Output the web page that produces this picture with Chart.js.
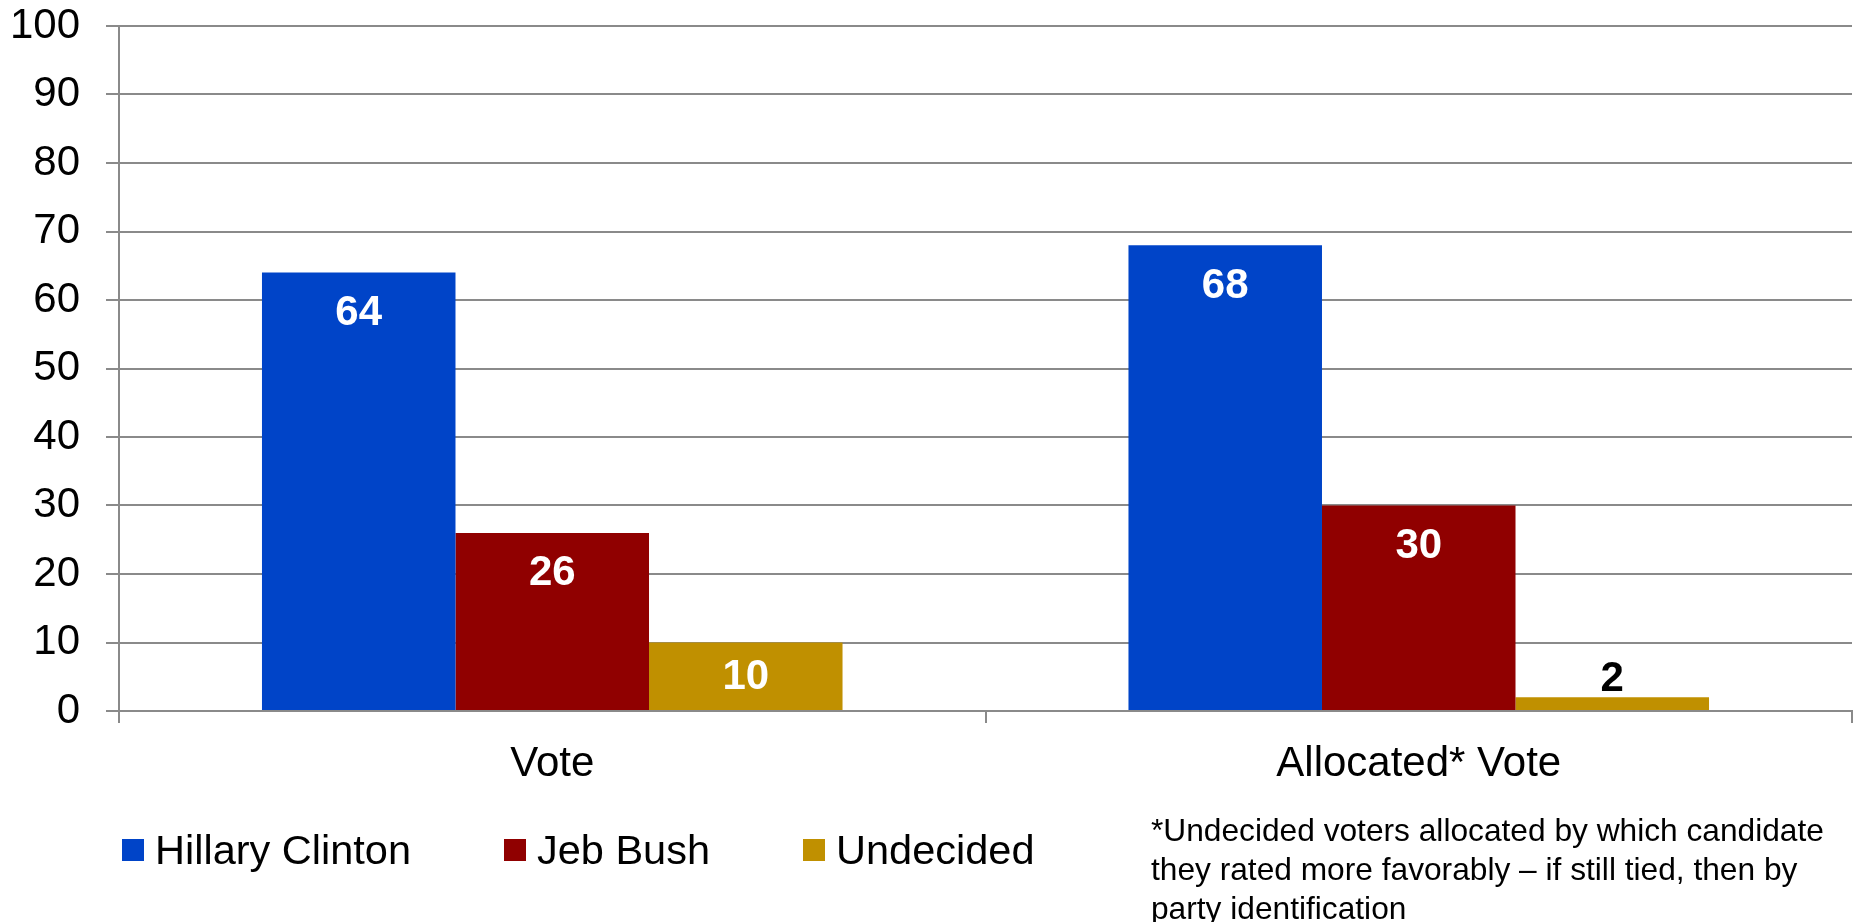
<!DOCTYPE html>
<html>
<head>
<meta charset="utf-8">
<script src="https://cdn.jsdelivr.net/npm/chart.js@4"></script>
<style>
  html, body { margin: 0; padding: 0; background: #fff; }
  #wrap { position: relative; width: 1856px; height: 922px; overflow: hidden; font-family: 'Liberation Sans', Arial, sans-serif; }
  #c { position: absolute; left: 0; top: 0; }
  #legend { position: absolute; left: 122px; top: 823px; display: flex; align-items: center; height: 54px; }
  .item { display: flex; align-items: center; margin-right: 93px; font-size: 41.5px; color: #000; white-space: nowrap; }
  .box { width: 22px; height: 22px; margin-right: 11px; }
  #note { position: absolute; left: 1151px; top: 811px; font-size: 31.7px; line-height: 39px; color: #000; white-space: nowrap; }
</style>
</head>
<body>
<div id="wrap">
  <canvas id="c" width="1856" height="922"></canvas>
  <div id="legend"></div>
  <div id="note">*Undecided voters allocated by which candidate<br>they rated more favorably – if still tied, then by<br>party identification</div>
</div>
<script>
const categories = ['Vote', 'Allocated* Vote'];
const seriesNames = ['Hillary Clinton', 'Jeb Bush', 'Undecided'];
const clintonValues = [64, 68];
const bushValues = [26, 30];
const undecidedValues = [10, 2];
const seriesColors = ['#0044C8', '#900000', '#C09000'];
const yTicks = [0, 10, 20, 30, 40, 50, 60, 70, 80, 90, 100];

const FONT = "'Liberation Sans', Arial, sans-serif";
const seriesValues = [clintonValues, bushValues, undecidedValues];

const datasets = seriesNames.map((name, i) => ({
  label: name,
  data: seriesValues[i],
  backgroundColor: seriesColors[i],
  borderWidth: 0,
  barPercentage: 1.0,
  categoryPercentage: 0.67
}));

const valueLabels = {
  id: 'valueLabels',
  afterDatasetsDraw(chart) {
    const ctx = chart.ctx;
    ctx.save();
    ctx.font = 'bold 42px ' + FONT;
    ctx.textAlign = 'center';
    ctx.textBaseline = 'middle';
    chart.data.datasets.forEach((ds, di) => {
      const meta = chart.getDatasetMeta(di);
      meta.data.forEach((bar, j) => {
        const v = ds.data[j];
        if (v >= 5) {
          ctx.fillStyle = '#ffffff';
          const y = Math.min(bar.y + 41, (bar.y + bar.base) / 2 + 1);
          ctx.fillText(String(v), bar.x, y);
        } else {
          ctx.fillStyle = '#000000';
          ctx.fillText(String(v), bar.x, bar.y - 18);
        }
      });
    });
    ctx.restore();
  }
};

const chart = new Chart(document.getElementById('c'), {
  type: 'bar',
  data: { labels: categories, datasets },
  options: {
    responsive: false,
    devicePixelRatio: 1,
    animation: false,
    layout: { padding: { left: 0, right: 4, top: 26, bottom: 0 } },
    plugins: {
      legend: { display: false },
      tooltip: { enabled: false }
    },
    scales: {
      x: {
        grid: {
          offset: true,
          drawOnChartArea: false,
          drawTicks: true,
          tickLength: 12,
          color: '#8a8a8a',
          lineWidth: 2
        },
        border: { display: true, color: '#8a8a8a', width: 2 },
        ticks: {
          color: '#000',
          font: { family: FONT, size: 42 },
          padding: 16
        },
        afterFit(scale) {
          scale.height = 211;
          scale.paddingLeft = 0; scale.paddingRight = 0;
        }
      },
      y: {
        min: 0,
        max: 100,
        afterBuildTicks(scale) { scale.ticks = yTicks.map(v => ({ value: v })); },
        grid: {
          color: '#8a8a8a',
          lineWidth: 2,
          tickLength: 13,
          drawTicks: true
        },
        border: { display: true, color: '#8a8a8a', width: 2 },
        ticks: {
          color: '#000',
          font: { family: FONT, size: 42 },
          padding: 26
        },
        afterFit(scale) {
          scale.width = 119;
          scale.paddingTop = 0; scale.paddingBottom = 0;
        }
      }
    }
  },
  plugins: [valueLabels]
});

const legendEl = document.getElementById('legend');
seriesNames.forEach((name, i) => {
  const item = document.createElement('div');
  item.className = 'item';
  const box = document.createElement('span');
  box.className = 'box';
  box.style.background = seriesColors[i];
  const txt = document.createElement('span');
  txt.textContent = name;
  item.appendChild(box);
  item.appendChild(txt);
  legendEl.appendChild(item);
});
</script>
</body>
</html>
